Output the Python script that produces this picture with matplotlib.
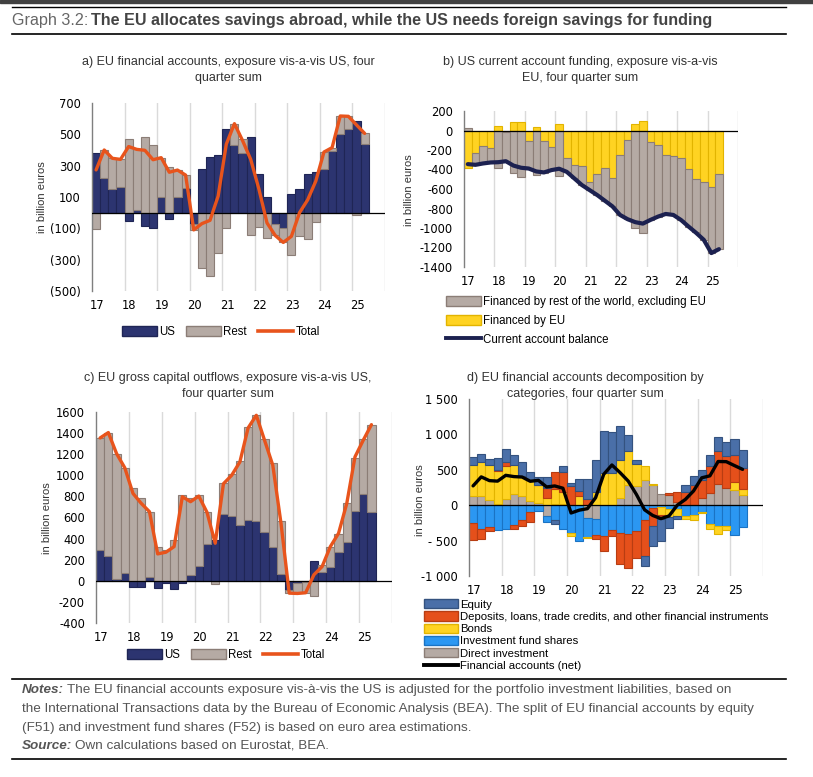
import numpy as np
import matplotlib
matplotlib.use('Agg')
import matplotlib.pyplot as plt
from matplotlib.patches import Patch, Rectangle
from matplotlib.lines import Line2D

# Fuentes: ejes en DejaVu, textos en Liberation Sans (más estrecha)
plt.rcParams['font.family'] = ['DejaVu Sans']
NARROW = ['Liberation Sans', 'DejaVu Sans']

# Datos (miles de millones de euros), 2017T1 - 2025T2
year_labels = ['17', '18', '19', '20', '21', '22', '23', '24', '25']

# a) Cuentas financieras UE frente a EE. UU.
a_us = [379, 221, 153, 166, -53, 17, -85, -95, 102, -40, 102, 160,
        -70, 281, 355, 366, 536, 434, 379, 485, 247, 98, -70, -95,
        117, 149, 249, 260, 277, 396, 504, 532, 585, 440]
a_rest = [-106, 179, 194, 174, 472, 387, 483, 432, 249, 294, 170, 81,
          -40, -351, -404, -260, -98, 134, 94, -145, -92, -164, -75, -95,
          -270, -149, -166, -57, 110, 19, 113, 83, -15, 66]
a_total = [273, 400, 347, 340, 422, 404, 398, 338, 351, 258, 272, 240,
           -110, -70, -49, 106, 437, 568, 460, 340, 152, -65, -145, -190,
           -151, 0, 82, 202, 387, 415, 617, 615, 560, 506]

# b) Financiación de la cuenta corriente de EE. UU.
b_eu = [-380, -230, -158, -175, 50, -15, 83, 90, -103, 35, -103, -165,
        70, -283, -358, -369, -530, -444, -386, -489, -253, -100, 70, 95,
        -117, -148, -250, -263, -283, -399, -501, -533, -583, -444]
b_row = [30, -120, -180, -153, -380, -300, -440, -475, -287, -461, -328, -241,
         -468, -141, -134, -191, -81, -218, -334, -286, -613, -810, -1000, -1054,
         -800, -735, -606, -603, -634, -586, -540, -588, -674, -773]
b_ca = [-345, -352, -338, -328, -325, -315, -360, -382, -390, -420, -430, -406,
        -392, -424, -492, -560, -611, -662, -720, -778, -866, -910, -940, -955,
        -917, -883, -856, -866, -917, -985, -1050, -1121, -1257, -1217]

# c) Salidas brutas de capital UE frente a EE. UU.
c_us = [293, 236, 16, 72, -60, -60, 35, -70, -25, -80, -25, 54,
        142, 346, 387, 633, 614, 532, 576, 567, 463, 324, 66, -85,
        -20, -10, 192, 88, 129, 271, 365, 665, 822, 655]
c_rest = [1064, 1169, 1190, 999, 876, 781, 617, 318, 290, 387, 813, 727,
          667, 306, -30, 290, 403, 602, 882, 1002, 882, 788, 498, -30,
          -100, -103, -142, 62, 189, 170, 369, 500, 526, 825]
c_total = [1354, 1405, 1206, 1071, 828, 734, 655, 255, 271, 324, 797, 750,
           803, 649, 356, 920, 1000, 1127, 1449, 1569, 1332, 1096, 545, -117,
           -120, -113, 57, 135, 324, 450, 734, 1175, 1332, 1480]

# d) Descomposición por categorías
d_di = [127, 136, 80, 10, 94, 164, 136, 66, 33, -146, 20, 19,
        0, 0, -174, -200, 0, 0, 100, 280, 270, 362, 291, 164,
        150, 40, 0, 0, 100, 175, 300, 245, 221, 141]
d_ifs = [-249, -343, -305, -357, -334, -273, -216, -94, -85, -94, -210, -330,
         -392, -507, -272, -220, -437, -344, -390, -400, -365, -210, -40, -30,
         -60, -50, -150, -140, -100, -270, -295, -300, -414, -310]
d_bonds = [436, 470, 484, 469, 456, 400, 282, 286, 250, 104, 210, 165,
           -47, 127, -20, 190, 456, 457, 544, 490, 310, 188, 15, -110,
           -100, -100, -50, -75, -15, -60, -105, -45, 108, 89]
d_dep = [-244, -141, -62, 24, 56, -61, -71, -141, 0, 132, 235, 282,
         269, 70, 94, -60, -213, -94, -447, -480, -376, -510, -260, -60,
         20, 150, 190, 280, 250, 376, 460, 446, 385, 296]
d_eq = [118, 118, 94, 164, 188, 150, 188, 118, 120, 165, -50, 94,
        47, 178, 282, 454, 597, 576, 470, 217, 60, -145, -280, -300,
        -160, -40, 92, 138, 148, 165, 203, 202, 226, 249]

# Colores
NAVY = '#2c3470'
NAVY_E = '#1f2555'
GREY = '#b5aaa4'
GREY_E = '#8b7d76'
ORANGE = '#e8541c'
YELLOW = '#ffd322'
YELLOW_E = '#e2b400'
EQ = '#4a6fa8'
EQ_E = '#34527f'
DEP = '#e5501b'
DEP_E = '#b83d12'
IFS = '#2b97f2'
IFS_E = '#1a73c4'
TXT = '#333333'

W, H = 813, 777
fig = plt.figure(figsize=(W / 100, H / 100), dpi=100)

n = len(a_us)
x = 17 + 0.125 + 0.25 * np.arange(n)


def add_axes_px(left, top, right, bottom):
    return fig.add_axes([left / W, 1 - bottom / H, (right - left) / W, (bottom - top) / H])


def stack(ax, series):
    pos = np.zeros(n)
    neg = np.zeros(n)
    for vals, col, edge in series:
        v = np.array(vals, dtype=float)
        base = np.where(v >= 0, pos, neg)
        ax.bar(x, v, 0.25, bottom=base, color=col, edgecolor=edge, linewidth=0.8, zorder=2)
        pos += np.clip(v, 0, None)
        neg += np.clip(v, None, 0)


def style(ax, ymin, ymax, yticks, ylabels):
    ax.set_xlim(17, 26)
    ax.set_ylim(ymin, ymax)
    for s in ['top', 'right', 'bottom']:
        ax.spines[s].set_visible(False)
    ax.spines['left'].set_color('#7f7f7f')
    ax.spines['left'].set_linewidth(1.0)
    for yr in range(18, 27):
        ax.axvline(yr, color='#dadada', lw=1.0, zorder=0)
    ax.axhline(0, color='black', lw=0.9, zorder=3)
    ax.set_yticks(yticks)
    ax.set_yticklabels(ylabels)
    ax.set_xticks(np.arange(17, 26) + 0.15)
    ax.set_xticklabels(year_labels)
    ax.tick_params(axis='both', length=0, labelsize=8.3, colors='black', pad=8)
    ax.tick_params(axis='x', pad=6)


def ylab(xp, yp):
    fig.text(xp / W, 1 - yp / H, 'in billion euros', rotation=90, ha='center', va='center',
             fontsize=8, color=TXT, family=NARROW)


# Panel a
ax = add_axes_px(92, 103, 385, 291)
stack(ax, [(a_us, NAVY, NAVY_E), (a_rest, GREY, GREY_E)])
ax.plot(x, a_total, color=ORANGE, lw=2.4, zorder=4, solid_capstyle='round')
style(ax, -500, 700, [700, 500, 300, 100, -100, -300, -500],
      ['700', '500', '300', '100', '(100)', '(300)', '(500)'])
ylab(42, 197)

# Panel b
ax = add_axes_px(464, 111, 738, 267)
stack(ax, [(b_eu, YELLOW, YELLOW_E), (b_row, GREY, GREY_E)])
ax.plot(x, b_ca, color='#1c2150', lw=3.0, zorder=4, solid_capstyle='round')
style(ax, -1400, 200, list(range(200, -1401, -200)),
      [str(v) for v in range(200, -1401, -200)])
ylab(409, 190)

# Panel c
ax = add_axes_px(96, 412, 392, 623)
stack(ax, [(c_us, NAVY, NAVY_E), (c_rest, GREY, GREY_E)])
ax.plot(x, c_total, color=ORANGE, lw=2.4, zorder=4, solid_capstyle='round')
style(ax, -400, 1600, list(range(1600, -401, -200)),
      [str(v) for v in range(1600, -401, -200)])
ylab(47, 518)

# Panel d
ax = add_axes_px(469, 399, 763, 576)
stack(ax, [(d_di, GREY, GREY_E), (d_ifs, IFS, IFS_E), (d_bonds, YELLOW, YELLOW_E),
           (d_dep, DEP, DEP_E), (d_eq, EQ, EQ_E)])
ax.plot(x, a_total, color='black', lw=2.4, zorder=4, solid_capstyle='round')
style(ax, -1000, 1500, [1500, 1000, 500, 0, -500, -1000],
      ['1 500', '1 000', '500', '0', '- 500', '-1 000'])
ylab(420, 500)

# Leyendas
leg_kw = dict(frameon=False, handlelength=3.0, handleheight=0.9, borderpad=0,
              borderaxespad=0, handletextpad=0.2, labelcolor='black')
h_us = Patch(facecolor=NAVY, edgecolor=NAVY_E, label='US')
h_rest = Patch(facecolor=GREY, edgecolor=GREY_E, label='Rest')
h_tot = Line2D([], [], color=ORANGE, lw=2.6, label='Total')
fig.legend(handles=[h_us, h_rest, h_tot], loc='center left', ncol=3, columnspacing=1.0,
           bbox_to_anchor=(122 / W, 1 - 332 / H), prop=dict(family=NARROW, size=8.3), **leg_kw)
fig.legend(handles=[h_us, h_rest, h_tot], loc='center left', ncol=3, columnspacing=1.0,
           bbox_to_anchor=(127 / W, 1 - 655 / H), prop=dict(family=NARROW, size=8.3), **leg_kw)

hb = [Patch(facecolor=GREY, edgecolor=GREY_E, label='Financed by rest of the world, excluding EU'),
      Patch(facecolor=YELLOW, edgecolor=YELLOW_E, label='Financed by EU'),
      Line2D([], [], color='#1c2150', lw=2.8, label='Current account balance')]
fig.legend(handles=hb, loc='upper left', labelspacing=0.6,
           bbox_to_anchor=(446 / W, 1 - 296 / H), prop=dict(family=NARROW, size=8.3), **leg_kw)

hd = [Patch(facecolor=EQ, edgecolor=EQ_E, label='Equity'),
      Patch(facecolor=DEP, edgecolor=DEP_E, label='Deposits, loans, trade credits, and other financial instruments'),
      Patch(facecolor=YELLOW, edgecolor=YELLOW_E, label='Bonds'),
      Patch(facecolor=IFS, edgecolor=IFS_E, label='Investment fund shares'),
      Patch(facecolor=GREY, edgecolor=GREY_E, label='Direct investment'),
      Line2D([], [], color='black', lw=2.8, label='Financial accounts (net)')]
fig.legend(handles=hd, loc='upper left', labelspacing=0.14,
           bbox_to_anchor=(424 / W, 1 - 599 / H), prop=dict(family=NARROW, size=8.2), **leg_kw)

# Títulos de los paneles
tkw = dict(ha='center', va='center', fontsize=9, color=TXT, family=NARROW, linespacing=1.5)
fig.text(228 / W, 1 - 70 / H, 'a) EU financial accounts, exposure vis-a-vis US, four\nquarter sum', **tkw)
fig.text(580 / W, 1 - 70 / H, 'b) US current account funding, exposure vis-a-vis\nEU, four quarter sum', **tkw)
fig.text(228 / W, 1 - 386 / H, 'c) EU gross capital outflows, exposure vis-a-vis US,\nfour quarter sum', **tkw)
fig.text(585 / W, 1 - 386 / H, 'd) EU financial accounts decomposition by\ncategories, four quarter sum', **tkw)

# Cabecera y líneas
fig.patches.append(Rectangle((0, 1 - 3 / H), 1, 3 / H, transform=fig.transFigure,
                             color='#404040', zorder=0))
for yy, lw in [(7, 1.0), (34, 1.2), (679, 1.2), (759, 1.2)]:
    fig.add_artist(Line2D([12 / W, 786 / W], [1 - yy / H, 1 - yy / H], color='black', lw=lw,
                          transform=fig.transFigure))

renderer = fig.canvas.get_renderer()


def two_part(xp, yp, first, rest, size, first_kw, rest_kw):
    t = fig.text(xp / W, 1 - yp / H, first, va='center', ha='left', fontsize=size,
                 family=NARROW, **first_kw)
    bb = t.get_window_extent(renderer)
    fig.text(bb.x1 / W + 3 / W, 1 - yp / H, rest, va='center', ha='left', fontsize=size,
             family=NARROW, **rest_kw)


two_part(12, 20, 'Graph 3.2:', 'The EU allocates savings abroad, while the US needs foreign savings for funding',
         11.6, dict(color='#666666'), dict(color='#444444', weight='bold'))

NOTE = '#555555'
NS = 9.7
two_part(22, 690, 'Notes:',
         'The EU financial accounts exposure vis-à-vis the US is adjusted for the portfolio investment liabilities, based on',
         NS, dict(color=NOTE, weight='bold', style='italic'), dict(color=NOTE))
fig.text(22 / W, 1 - 709 / H,
         'the International Transactions data by the Bureau of Economic Analysis (BEA). The split of EU financial accounts by equity',
         va='center', ha='left', fontsize=NS, family=NARROW, color=NOTE)
fig.text(22 / W, 1 - 728 / H,
         '(F51) and investment fund shares (F52) is based on euro area estimations.',
         va='center', ha='left', fontsize=NS, family=NARROW, color=NOTE)
two_part(22, 746, 'Source:', 'Own calculations based on Eurostat, BEA.',
         NS, dict(color=NOTE, weight='bold', style='italic'), dict(color=NOTE))

fig.savefig('out.png', dpi=100)
